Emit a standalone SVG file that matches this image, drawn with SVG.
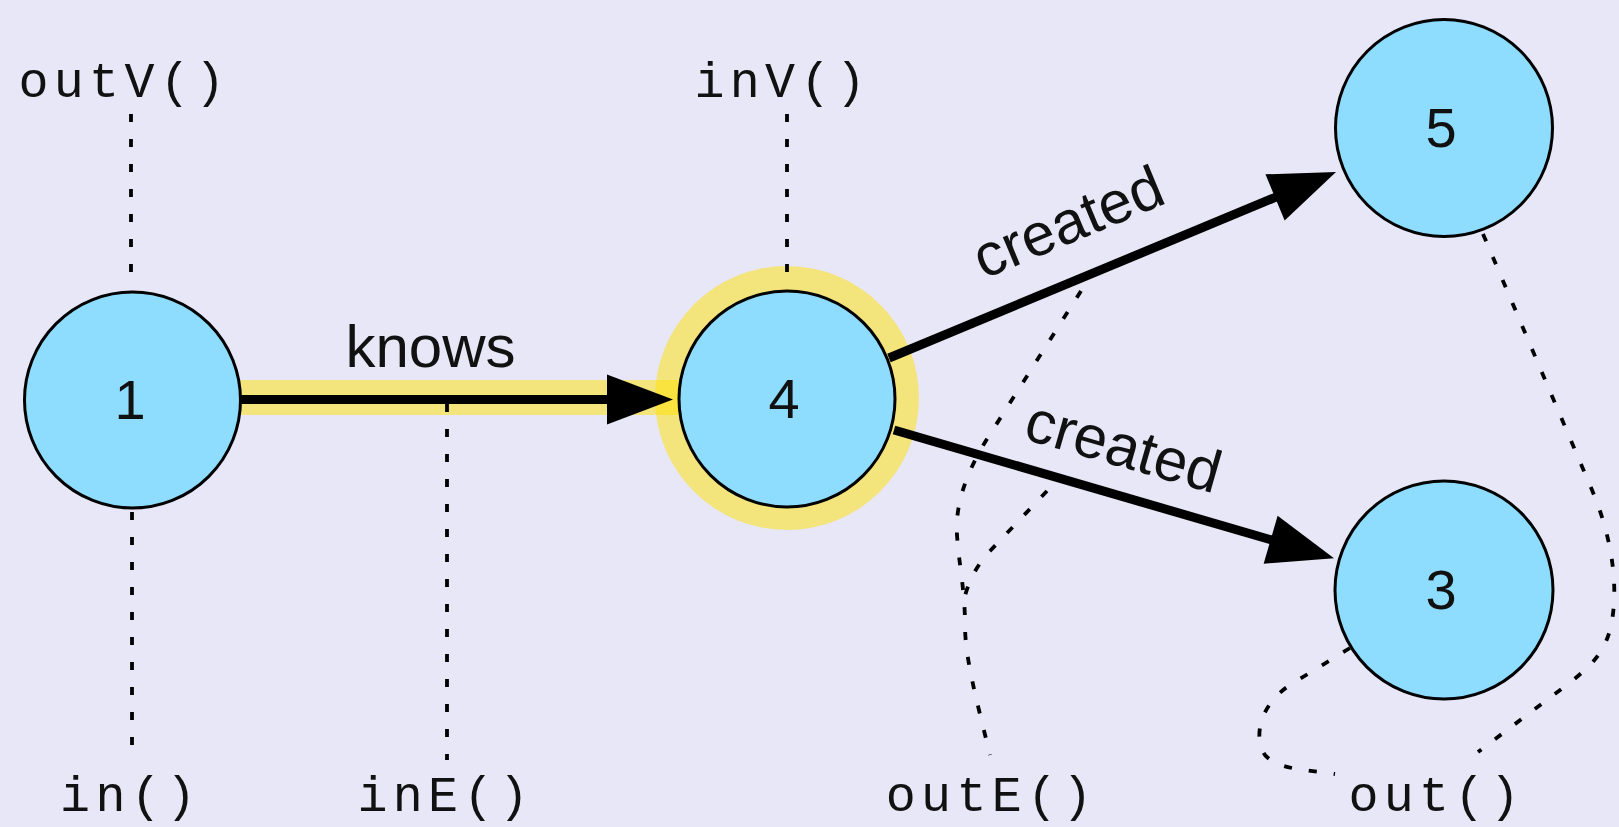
<svg xmlns="http://www.w3.org/2000/svg" width="1619" height="827" viewBox="0 0 1619 827">
<style>
  .bg { fill: #e8e7f8; }
  .hl { fill: #ffe100; fill-opacity: 0.5; }
  .node circle { fill: #8edcfe; stroke: #000; stroke-width: 3; }
  .nlabel { font-family: "Liberation Sans", Arial, sans-serif; font-size: 56px; text-anchor: middle; fill: #111; }
  .elabel { font-family: "Liberation Sans", Arial, sans-serif; font-size: 60px; text-anchor: middle; fill: #111; }
  .mlabel { font-family: "Liberation Mono", "Courier New", monospace; font-size: 50px; letter-spacing: 5.3px; text-anchor: middle; fill: #111; }
  .edge { stroke: #000; stroke-width: 9; fill: none; marker-end: url(#arrow); }
  .dot { stroke: #000; stroke-width: 3.8; fill: none; stroke-dasharray: 8 17; }
</style>
<defs>
  <marker id="arrow" markerUnits="userSpaceOnUse" markerWidth="66" markerHeight="50" viewBox="0 0 66 50" refX="6" refY="25" orient="auto" overflow="visible">
    <path d="M0,0 L66,25 L0,50 z" fill="#000"/>
  </marker>
</defs>
<rect class="bg" x="0" y="0" width="1619" height="827"/>

<g id="highlights">
  <circle class="hl" cx="787" cy="398" r="132"/>
  <rect class="hl" x="236" y="380" width="446" height="35"/>
</g>

<g id="connectors">
  <line id="e-knows" class="edge" x1="240" y1="399.5" x2="613" y2="399.5"/>
  <line id="e-created-5" class="edge" x1="889" y1="358" x2="1280.6" y2="195.1"/>
  <line id="e-created-3" class="edge" x1="894" y1="430" x2="1276.4" y2="541.4"/>
  <text class="elabel" x="430.5" y="367">knows</text>
  <text class="elabel" transform="translate(1076,241) rotate(-22.6)">created</text>
  <text class="elabel" transform="translate(1118,466) rotate(16)">created</text>

  <line class="dot" x1="131" y1="114" x2="131" y2="276"/>
  <line class="dot" x1="787" y1="114" x2="787" y2="276"/>
  <line class="dot" x1="132" y1="512" x2="132" y2="745"/>
  <line class="dot" x1="447" y1="404" x2="447" y2="760"/>
  <path class="dot" d="M1081,291 L987,439 C966,473 955,505 957,535 C959,565 965,590 965,625 C965,660 978,705 990,755"/>
  <path class="dot" d="M1047,491 L990,551 Q972,570 965,596"/>
  <path class="dot" d="M1483,234 L1592,490 C1612,537 1620,590 1610,630 C1603,655 1590,666 1572,681 L1478,752"/>
  <path class="dot" d="M1350,648 L1290,685 C1262,703 1252,735 1265,755 C1277,770 1310,770 1335,774"/>
</g>

<g id="node-1" class="node">
  <circle cx="132.5" cy="400" r="108"/>
  <text class="nlabel" x="130" y="419">1</text>
</g>
<g id="node-4" class="node">
  <circle cx="787" cy="399" r="108"/>
  <text class="nlabel" x="784" y="418">4</text>
</g>
<g id="node-5" class="node">
  <circle cx="1444" cy="128" r="108.5"/>
  <text class="nlabel" x="1441" y="147">5</text>
</g>
<g id="node-3" class="node">
  <circle cx="1444" cy="590" r="109"/>
  <text class="nlabel" x="1441" y="609">3</text>
</g>

<g id="method-labels">
  <text class="mlabel" x="124.4" y="97">outV()</text>
  <text class="mlabel" x="782.7" y="97">inV()</text>
  <text class="mlabel" x="130.7" y="811">in()</text>
  <text class="mlabel" x="445.7" y="811">inE()</text>
  <text class="mlabel" x="991.7" y="811">outE()</text>
  <text class="mlabel" x="1436.7" y="811">out()</text>
</g>
</svg>
